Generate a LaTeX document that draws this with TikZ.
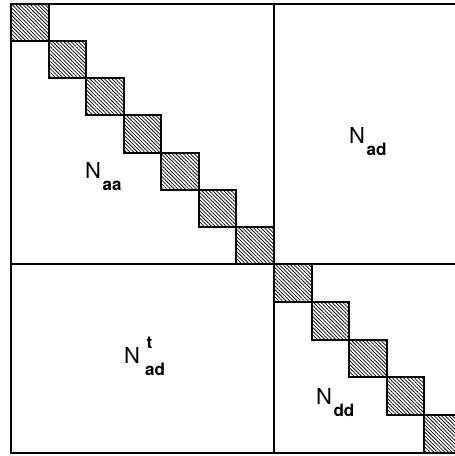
\documentclass[tikz,border=0pt]{standalone}
\usepackage{fontspec}
\setmainfont{TeX Gyre Heros}
\usetikzlibrary{patterns.meta}
\tikzset{
  frameline/.style={line width=1.3pt},
  hatchblock/.style={line width=2pt, pattern={Lines[angle=-45,distance=2.6pt,line width=0.75pt]}},
  lbl/.style={inner sep=0pt, anchor=base west, font=\fontsize{22}{26}\selectfont},
}
\newcommand{\subtxt}[1]{\raisebox{-12pt}{\fontsize{17}{20}\selectfont\bfseries #1}}
\newcommand{\suptxt}[1]{\rlap{\kern1.5pt\raisebox{15pt}{\fontsize{17}{20}\selectfont\bfseries #1}}}

\begin{document}
\begin{tikzpicture}[x=1pt, y=-1pt]
  \useasboundingbox (0,0) rectangle (455,456);
  \clip (0,0) rectangle (455,456);
  % outer frame and dividers
  \draw[frameline] (11,4) rectangle (462,453);
  \draw[frameline] (274,4) -- (274,453);
  \draw[frameline] (11,264) -- (462,264);
  % diagonal blocks, upper left
  \foreach \i in {0,...,6}
    \draw[hatchblock] (11+37.57*\i,4+37.14*\i) rectangle ++(37.57,37.14);
  % diagonal blocks, lower right
  \foreach \i in {0,...,4}
    \draw[hatchblock] (274+37.6*\i,264+37.8*\i) rectangle ++(37.6,37.8);
  % labels
  \node[lbl] (naa) at (85,178) {N\kern1.5pt\subtxt{aa}};
  \node[lbl] (nad) at (349,143) {N\kern1.5pt\subtxt{ad}};
  \node[lbl] (nadt) at (124,363) {N\kern5pt\suptxt{t}\subtxt{ad}};
  \node[lbl] (ndd) at (316,404) {N\kern1.5pt\subtxt{dd}};
\end{tikzpicture}
\end{document}
